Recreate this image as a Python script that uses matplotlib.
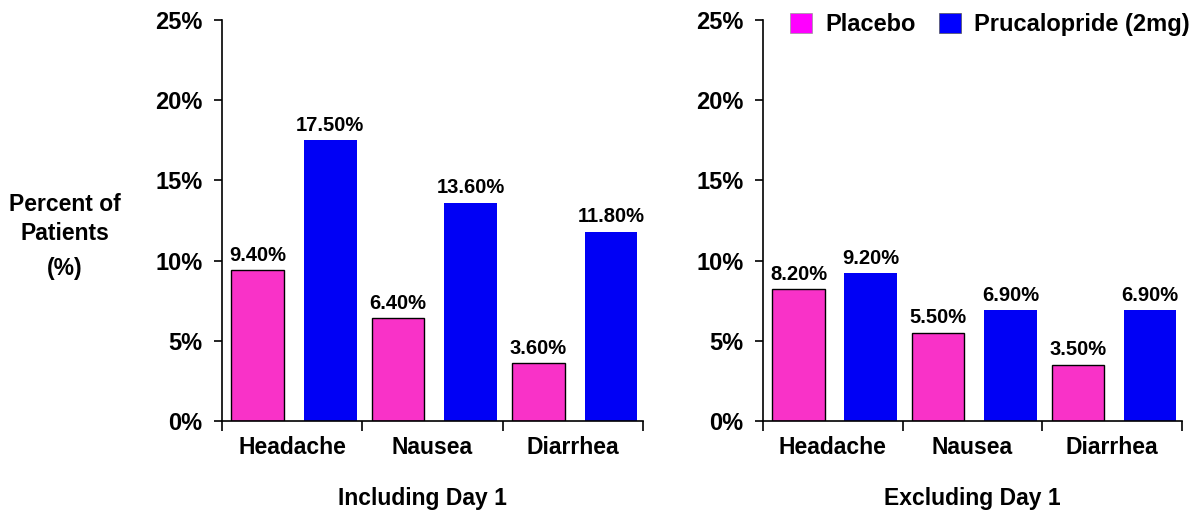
import matplotlib.pyplot as plt
from matplotlib.patches import Patch
from matplotlib.ticker import FuncFormatter, FixedLocator

plt.rcParams['font.family'] = ['Liberation Sans', 'DejaVu Sans']
plt.rcParams['font.weight'] = 'bold'

categories = ["Headache", "Nausea", "Diarrhea"]
incl_placebo = [9.4, 6.4, 3.6]
incl_pruc = [17.5, 13.6, 11.8]
excl_placebo = [8.2, 5.5, 3.5]
excl_pruc = [9.2, 6.9, 6.9]
panel_titles = ["Including Day 1", "Excluding Day 1"]

PINK = "#F932C8"
BLUE = "#0000F5"

fig = plt.figure(figsize=(11.93, 5.12), dpi=100)
ax1 = fig.add_axes([222 / 1193, 91 / 512, 421 / 1193, 401 / 512])
ax2 = fig.add_axes([763 / 1193, 91 / 512, 419 / 1193, 401 / 512])


def draw_panel(ax, placebo, pruc, title, title_x=0.5):
    width = 0.375
    xs = range(len(categories))
    pos_p = [x + 0.254 for x in xs]
    pos_b = [x + 0.771 for x in xs]
    ax.bar(pos_p, placebo, width, color=PINK, edgecolor="black", linewidth=1.0)
    ax.bar(pos_b, pruc, width, color=BLUE, edgecolor="none")
    for x, v in zip(pos_p + pos_b, placebo + pruc):
        ax.text(x, v + 0.35, f"{v:.2f}%", ha="center", va="bottom",
                fontsize=14.5, fontweight="bold")
    ax.set_xlim(0, len(categories))
    ax.set_ylim(0, 25)
    ax.set_yticks([0, 5, 10, 15, 20, 25])
    ax.yaxis.set_major_formatter(FuncFormatter(lambda v, _: f"{v:.0f}%"))
    ax.xaxis.set_major_locator(FixedLocator([0, 1, 2, 3]))
    ax.xaxis.set_minor_locator(FixedLocator([0.5, 1.5, 2.5]))
    ax.set_xticklabels([])
    ax.set_xticklabels(categories, minor=True)
    ax.tick_params(axis="x", which="major", direction="out", length=7, width=1.2)
    ax.tick_params(axis="x", which="minor", length=0, pad=11, labelsize=16.5)
    ax.tick_params(axis="y", direction="out", length=6, width=1.2, pad=8, labelsize=17)
    for lbl in ax.get_xticklabels(minor=True) + ax.get_yticklabels():
        lbl.set_fontweight("bold")
    for side in ("top", "right"):
        ax.spines[side].set_visible(False)
    for side in ("left", "bottom"):
        ax.spines[side].set_linewidth(1.2)
    ax.set_xlabel(title, fontsize=16.5, fontweight="bold", labelpad=20)
    ax.xaxis.label.set_x(title_x)


draw_panel(ax1, incl_placebo, incl_pruc, panel_titles[0], title_x=0.477)
draw_panel(ax2, excl_placebo, excl_pruc, panel_titles[1])

fig.text(65 / 1193, 1 - 219 / 512, "Percent of\nPatients", ha="center", va="center",
         fontsize=16.5, fontweight="bold", linespacing=1.3)
fig.text(65 / 1193, 1 - 269 / 512, "(%)", ha="center", va="center",
         fontsize=16.5, fontweight="bold")

handles = [Patch(facecolor="#FF00FF", edgecolor="#999999", linewidth=0.5),
           Patch(facecolor="#0000FF", edgecolor="#555555", linewidth=0.5)]
fig.legend(handles, ["Placebo", "Prucalopride (2mg)"], loc="upper left",
           bbox_to_anchor=(790 / 1193, 1 - 13 / 512), ncol=2, frameon=False,
           prop={"size": 17, "weight": "bold"}, handlelength=0.93, handleheight=0.93,
           handletextpad=0.55, columnspacing=1.0, borderaxespad=0, borderpad=0)

fig.savefig("out.png", dpi=100)
